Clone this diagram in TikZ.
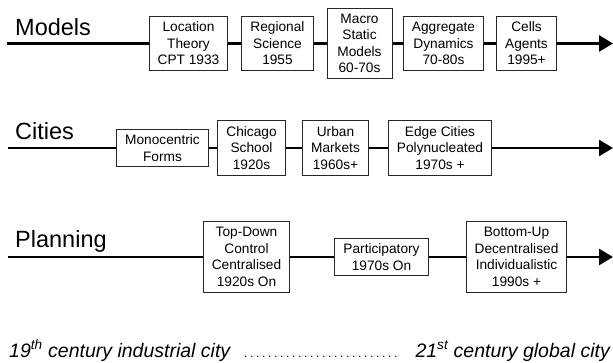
\documentclass[tikz,border=0pt]{standalone}
\usepackage{fontspec}
\setmainfont{Liberation Sans}
\usetikzlibrary{arrows.meta}

\begin{document}
\begin{tikzpicture}[x=1pt, y=-1pt,
    box/.style={draw=black!85, line width=1pt, fill=white, align=center,
        font=\fontsize{13.7}{16.5}\selectfont, inner xsep=8.5pt, inner ysep=5.5pt},
    heading/.style={anchor=base west, inner sep=0pt, font=\fontsize{23.5}{28}\selectfont},
    era/.style={anchor=base west, inner sep=0pt, font=\fontsize{19.5}{23}\selectfont\itshape},
    timeline/.style={line width=2.6pt, -{Triangle[length=14pt,width=16pt]}}]

    \useasboundingbox (0,0) rectangle (613,363);

    % Models
    \node[heading] (models) at (15,36) {Models};
    \coordinate (mstart) at (7,43.5);
    \coordinate (mend) at (613,43.5);
    \node[box] (location) at (188.5,43.5) {Location\\Theory\\CPT 1933};
    \node[box] (regional) at (277.5,43.5) {Regional\\Science\\1955};
    \node[box, minimum width=65pt] (macro) at (359.5,43.5) {Macro\\Static\\Models\\60-70s};
    \node[box] (aggregate) at (443.5,43.5) {Aggregate\\Dynamics\\70-80s};
    \node[box] (cells) at (526.5,43.5) {Cells\\Agents\\1995+};
    \draw[timeline] (mstart) -- (location) -- (regional) -- (macro) -- (aggregate) -- (cells) -- (mend);

    % Cities
    \node[heading] (cities) at (15,140) {Cities};
    \coordinate (cstart) at (8,148);
    \coordinate (cend) at (613,148);
    \node[box] (monocentric) at (162.5,148) {Monocentric\\Forms};
    \node[box] (chicago) at (251.5,148) {Chicago\\School\\1920s};
    \node[box] (urban) at (335.5,148) {Urban\\Markets\\1960s+};
    \node[box] (edge) at (440,148) {Edge Cities\\Polynucleated\\1970s +};
    \draw[timeline] (cstart) -- (monocentric) -- (chicago) -- (urban) -- (edge) -- (cend);

    % Planning
    \node[heading] (planning) at (15,248) {Planning};
    \coordinate (pstart) at (8,257);
    \coordinate (pend) at (613,257);
    \node[box] (topdown) at (246.5,257) {Top-Down\\Control\\Centralised\\1920s On};
    \node[box] (participatory) at (381.5,257) {Participatory\\1970s On};
    \node[box] (bottomup) at (516.5,257) {Bottom-Up\\Decentralised\\Individualistic\\1990s +};
    \draw[timeline] (pstart) -- (topdown) -- (participatory) -- (bottomup) -- (pend);

    % from industrial to global city
    \node[era] (industrial) at (9,357) {19\textsuperscript{th} century industrial city};
    \node[era, font=\fontsize{12}{14}\selectfont\itshape] (dots) at (243,357)
        {\foreach \i in {1,...,26}{\makebox[6pt]{.}}};
    \node[era, anchor=base east] (global) at (610,357) {21\textsuperscript{st} century global city};

\end{tikzpicture}
\end{document}
